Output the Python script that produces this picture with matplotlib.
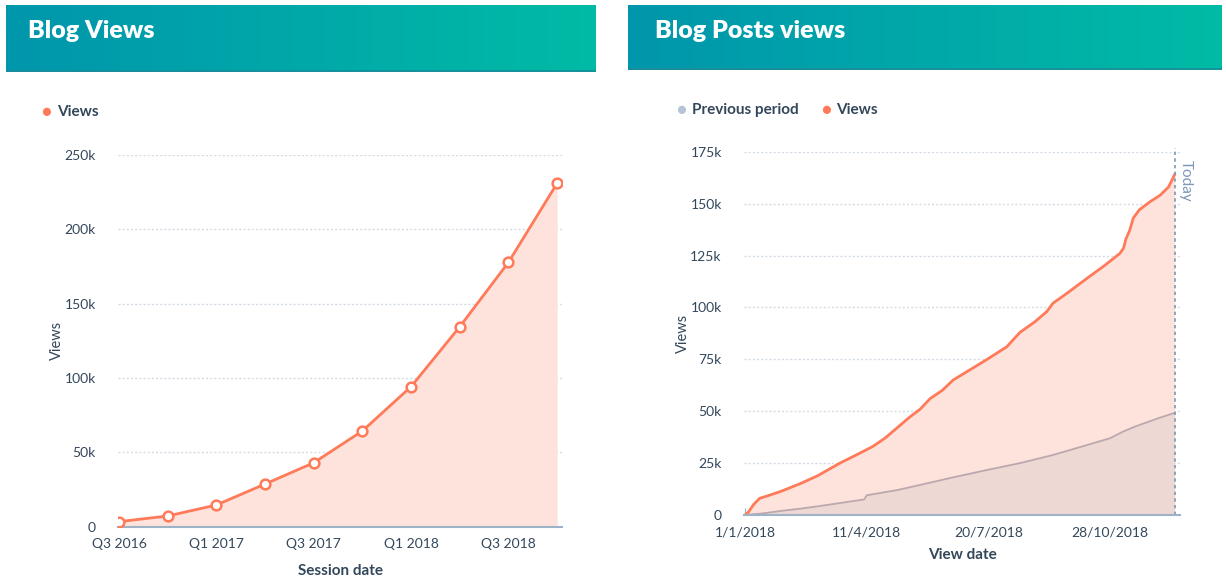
import matplotlib.pyplot as plt
import numpy as np
from matplotlib.colors import LinearSegmentedColormap

plt.rcParams['font.family'] = ['Lato', 'DejaVu Sans']

# left chart: quarterly blog views
quarters = ['Q3 2016', 'Q4 2016', 'Q1 2017', 'Q2 2017', 'Q3 2017',
            'Q4 2017', 'Q1 2018', 'Q2 2018', 'Q3 2018', 'Q4 2018']
views_q = [3400, 7200, 14600, 28700, 43000, 64400, 94200, 134500, 177800, 231000]
left_ticks = ['Q3 2016', 'Q1 2017', 'Q3 2017', 'Q1 2018', 'Q3 2018']

# right chart: cumulative views by day of 2018
days = [0, 3, 7, 12, 20, 30, 45, 60, 78, 90, 100, 105, 115, 125, 135, 144, 152, 162,
        171, 185, 199, 215, 226, 238, 248, 253, 265, 281, 295, 308, 311, 313, 316,
        319, 324, 333, 341, 348, 353]
views_d = [0, 1500, 5000, 8000, 9500, 11500, 15000, 19000, 25000, 28500, 31500, 33000,
           37000, 42000, 47000, 51000, 56000, 60000, 65000, 70000, 75000, 81000, 88000,
           93000, 98000, 102000, 107000, 114000, 120000, 126000, 128500, 133000, 137000,
           143000, 147000, 151000, 154000, 158000, 164000]
prev_days = [0, 15, 30, 45, 60, 75, 90, 98, 100, 110, 125, 144, 170, 199, 226, 253,
             281, 300, 310, 320, 340, 353]
prev_views = [0, 800, 2000, 3000, 4200, 5500, 6800, 7500, 9500, 10500, 12000, 14500,
              18000, 21700, 25000, 28900, 33700, 37000, 40000, 42500, 46700, 49200]
right_tick_days = [0, 100, 200, 300]
right_ticks = ['1/1/2018', '11/4/2018', '20/7/2018', '28/10/2018']
today = 353

W, H = 1226, 577
orange = '#FF7A59'
fill = '#FDE3DB'
dark = '#33475B'
axcol = '#9FB3C8'
grid = '#D3DBE5'

fig = plt.figure(figsize=(W / 100, H / 100), dpi=100)


def px(x0, y0, x1, y1):
    return [x0 / W, 1 - y1 / H, (x1 - x0) / W, (y1 - y0) / H]


cmap = LinearSegmentedColormap.from_list('band', ['#0096AC', '#00BBA5'])
for box, title, tx in [((6, 5, 596, 72), 'Blog Views', 28), ((628, 5, 1222, 70), 'Blog Posts views', 655)]:
    b = fig.add_axes(px(*box))
    b.imshow(np.linspace(0, 1, 256)[None, :], aspect='auto', cmap=cmap, extent=[0, 1, 0, 1])
    b.axhline(0.015, color='#1A8C9C', lw=1.2)
    b.axis('off')
    fig.text(tx / W, 1 - 31 / H, title, color='white', fontsize=18, fontweight='heavy', va='center')


def style(ax):
    for s in ['top', 'right', 'left']:
        ax.spines[s].set_visible(False)
    ax.spines['bottom'].set_color(axcol)
    ax.spines['bottom'].set_linewidth(1.5)
    ax.grid(axis='y', color=grid, linestyle=(0, (1.5, 1.5)), lw=1)
    ax.set_axisbelow(True)
    ax.tick_params(axis='y', length=0, labelsize=10, labelcolor=dark, pad=16)
    ax.tick_params(axis='x', direction='in', length=5, color=axcol, labelsize=10, labelcolor=dark, pad=8)


# left chart
ax1 = fig.add_axes(px(118, 155, 562, 526.7))
x = np.arange(len(quarters))
ax1.fill_between(x, views_q, color=fill, lw=0)
ax1.plot(x, views_q, color=orange, lw=2, marker='o', ms=7, mfc='white', mec=orange, mew=1.8, zorder=3)
ax1.set_xlim(-0.02, 9.1)
ax1.set_ylim(0, 250000)
ax1.set_yticks([0, 50000, 100000, 150000, 200000, 250000])
ax1.set_yticklabels(['0', '50k', '100k', '150k', '200k', '250k'])
ax1.set_xticks([quarters.index(q) for q in left_ticks])
ax1.set_xticklabels(left_ticks)
style(ax1)
ax1.set_xlabel('Session date', fontsize=11, fontweight='bold', color=dark, labelpad=10)
ax1.set_ylabel('Views', fontsize=10.5, color=dark, labelpad=0)
fig.text(46 / W, 1 - 112 / H, '●', fontsize=12, color=orange, va='center', ha='center')
fig.text(57 / W, 1 - 112 / H, 'Views', fontsize=11, fontweight='bold', color=dark, va='center')

# right chart
ax2 = fig.add_axes(px(744, 151.7, 1180, 515))
ax2.fill_between(days, views_d, color=fill, lw=0)
ax2.fill_between(prev_days, prev_views, color='#EDD8D4', lw=0)
ax2.plot(prev_days, prev_views, color='#BBA8AE', lw=1.3)
ax2.plot(days, views_d, color=orange, lw=2)
ax2.axvline(today, color='#7C98B6', lw=1.2, linestyle=(0, (2, 2)), ymax=1.01, clip_on=False)
ax2.text(today + 3, 171000, 'Today', rotation=-90, color='#7C98B6', fontsize=11, va='top', ha='left')
ax2.set_xlim(-0.8, 357.4)
ax2.set_ylim(0, 175000)
ax2.set_yticks(np.arange(0, 175001, 25000))
ax2.set_yticklabels(['0', '25k', '50k', '75k', '100k', '125k', '150k', '175k'])
ax2.set_xticks(right_tick_days)
ax2.set_xticklabels(right_ticks)
style(ax2)
ax2.tick_params(axis='y', pad=16)
ax2.tick_params(axis='x', pad=8)
ax2.set_xlabel('View date', fontsize=11, fontweight='bold', color=dark, labelpad=7)
ax2.set_ylabel('Views', fontsize=10.5, color=dark, labelpad=0)
fig.text(681 / W, 1 - 110 / H, '●', fontsize=12, color='#B5C4D5', va='center', ha='center')
fig.text(692 / W, 1 - 110 / H, 'Previous period', fontsize=11, fontweight='bold', color=dark, va='center')
fig.text(826 / W, 1 - 110 / H, '●', fontsize=12, color=orange, va='center', ha='center')
fig.text(836 / W, 1 - 110 / H, 'Views', fontsize=11, fontweight='bold', color=dark, va='center')

fig.savefig('out.png', dpi=100)
